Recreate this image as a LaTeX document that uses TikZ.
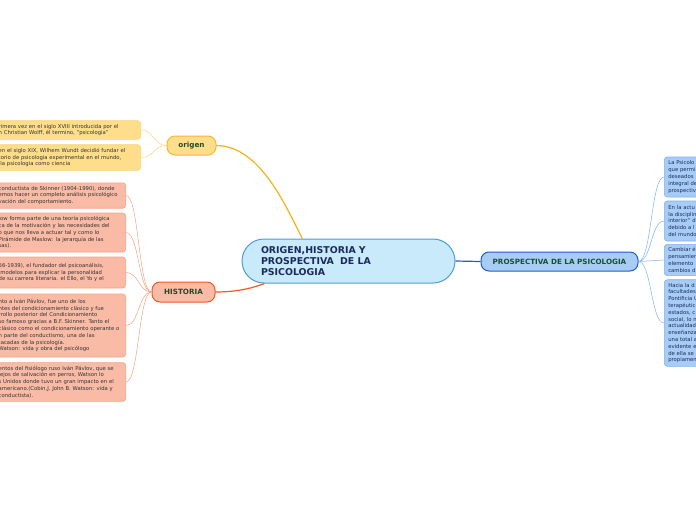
\documentclass[tikz,border=0pt]{standalone}
\usepackage{fontspec}
\setmainfont{DejaVu Sans}
\usetikzlibrary{positioning}
\definecolor{RootFill}{HTML}{C8EAFB}
\definecolor{RootLine}{HTML}{4E9DD8}
\definecolor{RootText}{HTML}{1B2A5E}
\definecolor{OriFill}{HTML}{FEDE8A}
\definecolor{OriLine}{HTML}{F7B733}
\definecolor{OriLeaf}{HTML}{FCD47C}
\definecolor{OriLink}{HTML}{F9B115}
\definecolor{HisFill}{HTML}{F9BBA6}
\definecolor{HisLine}{HTML}{F05A28}
\definecolor{HisLeaf}{HTML}{F5A287}
\definecolor{ProFill}{HTML}{A7CDF6}
\definecolor{ProLine}{HTML}{1F5FC8}
\definecolor{ProLeaf}{HTML}{7FB2F0}
\definecolor{LabelText}{HTML}{1E4D2B}

\tikzset{
  rootbox/.style={draw=RootLine, fill=RootFill, line width=1pt, rounded corners=22pt,
    minimum width=213pt, minimum height=44pt, inner xsep=19pt, text width=175pt, align=left,
    font=\fontsize{9.4}{11}\selectfont\bfseries, text=RootText},
  branchbox/.style={line width=1pt, rounded corners=8pt, inner sep=0pt,
    font=\fontsize{7.2}{8}\selectfont\bfseries, text=LabelText},
  leafleft/.style={rounded corners=3pt, line width=0.6pt, anchor=east, inner xsep=3pt,
    align=left, font=\fontsize{5.3}{6.8}\selectfont, text=black!80},
  leafright/.style={draw=ProLeaf, fill=ProFill, rounded corners=3pt, line width=0.6pt, anchor=west,
    inner xsep=4pt, text width=60pt, align=left, font=\fontsize{5.3}{6.8}\selectfont, text=RootText},
  twig/.style={line width=0.5pt},
}

\begin{document}
\begin{tikzpicture}[x=1pt, y=-1pt]
\useasboundingbox (0,0) rectangle (696,520);
\fill[white] (0,0) rectangle (696,520);
\clip (0,0) rectangle (696,520);

% Central topic
\node[rootbox] (root) at (348.5,261) {ORIGEN,HISTORIA Y\\PROSPECTIVA\ \ DE LA\\PSICOLOGIA};

% Main branches
\node[branchbox, draw=OriLine, fill=OriFill, minimum width=49pt, minimum height=19pt] (origen) at (191.5,145.5) {origen};
\node[branchbox, draw=HisLine, fill=HisFill, minimum width=63pt, minimum height=20pt] (historia) at (183.5,292) {HISTORIA};
\node[branchbox, draw=ProLine, fill=ProFill, minimum width=157pt, minimum height=19pt] (prospectiva) at (559.5,261.5) {PROSPECTIVA DE LA PSICOLOGIA};

\draw[OriLink, line width=1.2pt] (root.154) .. controls (285,205) and (260,146) .. (origen.east);
\draw[HisLine, line width=1.2pt] (root.195) .. controls (255,287) and (240,292) .. (historia.east);
\draw[ProLine, line width=1.2pt] (root.east) -- (prospectiva.west);

% origen leaves
\node[leafleft, draw=OriLeaf, fill=OriFill, text width=139pt, minimum height=18pt] (ori1) at (141,130)
  {rimera vez en el siglo XVIII introducida por el\\n Christian Wolff, él termino, "psicologia"};
\node[leafleft, draw=OriLeaf, fill=OriFill, text width=139pt, minimum height=25pt] (ori2) at (141,157.5)
  {en el siglo XIX, Wilhem Wundt decidió fundar el\\torio de psicologia experimental en el mundo,\\\ la psicologia como ciencia};

% HISTORIA leaves
\node[leafleft, draw=HisLeaf, fill=HisFill, text width=124pt, minimum height=25pt] (his1) at (126,195.5)
  {conductista de Skinner (1904-1990), donde\\emos hacer un completo análisis psicológico\\vación del comportamiento.};
\node[leafleft, draw=HisLeaf, fill=HisFill, text width=124pt, minimum height=39pt] (his2) at (126,232.5)
  {low forma parte de una teoría psicológica\\ca de la motivación y las necesidades del\\o que nos lleva a actuar tal y como lo\\Pirámide de Maslow: la jerarquía de las\\sas).};
\node[leafleft, draw=HisLeaf, fill=HisFill, text width=124pt, minimum height=31pt] (his3) at (126,272.5)
  {56-1939), el fundador del psicoanálisis,\\\ modelos para explicar la personalidad\\de su carrera literaria. el Ello, el Yo y el};
\node[leafleft, draw=HisLeaf, fill=HisFill, text width=124pt, minimum height=63pt] (his4) at (126,325.5)
  {nto a Iván Pávlov, fue uno de los\\ntes del condicionamiento clásico y fue\\rrollo posterior del Condicionamiento\\so famoso gracias a B.F. Skinner. Tanto el\\clásico como el condicionamiento operante o\\n parte del conductismo, una de las\\tacadas de la psicología.\\Watson: vida y obra del psicólogo};
\node[leafleft, draw=HisLeaf, fill=HisFill, text width=124pt, minimum height=38pt] (his5) at (126,382)
  {entos del fisiólogo ruso Iván Pávlov, que se\\lejos de salivación en perros, Watson lo\\s Unidos donde tuvo un gran impacto en el\\americano.(Cobin,J. John B. Watson: vida y\\conductista).};

% PROSPECTIVA leaves
\node[leafright, minimum height=40pt] (pro1) at (664,177)
  {La Psicolo\\que permi\\deseados\\integral de\\prospectiv};
\node[leafright, minimum height=40pt] (pro2) at (664,221)
  {En la actu\\la disciplin\\interior" d\\debido a l\\del mundo};
\node[leafright, minimum height=30pt] (pro3) at (664,260)
  {Cambiar é\\pensamien\\elemento\\cambios d};
\node[leafright, minimum height=84pt] (pro4) at (664,323)
  {Hacia la d\\facultades\\Pontificia U\\terapéutic\\estados, c\\social, lo n\\actualidad\\enseñanza\\una total a\\evidente e\\de ella se\\propiamen};

% twigs
\foreach \leaf in {ori1,ori2}
  \draw[twig, OriLeaf] (origen.west) .. controls +(-13,0) and +(13,0) .. (\leaf.east);
\foreach \leaf in {his1,his2,his3,his4,his5}
  \draw[twig, HisLeaf] (historia.west) .. controls +(-13,0) and +(13,0) .. (\leaf.east);
\foreach \leaf in {pro1,pro2,pro3,pro4}
  \draw[twig, ProLeaf] (prospectiva.east) .. controls +(13,0) and +(-13,0) .. (\leaf.west);

\end{tikzpicture}
\end{document}
